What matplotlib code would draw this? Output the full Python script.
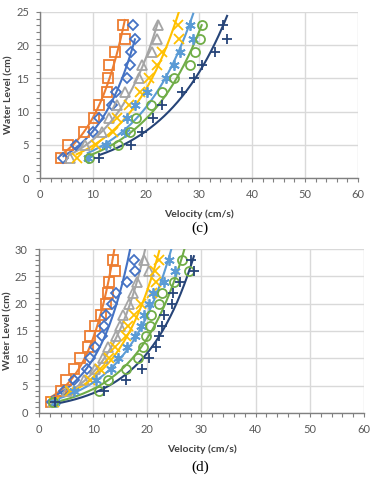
import numpy as np
import matplotlib
matplotlib.use('Agg')
import matplotlib.pyplot as plt
from matplotlib.ticker import MultipleLocator

# panel (c): water level vs velocity
levels_c = [3, 5, 7, 9, 11, 13, 15, 17, 19, 21, 23]
c_orange = [3.9, 5.3, 8.2, 10.2, 11.2, 12.7, 12.9, 13.1, 14.2, 16.0, 15.7]
c_blue = [4.4, 6.8, 9.9, 11.1, 13.5, 14.3, 16.4, 17.0, 17.2, 17.9, 17.6]
c_gray = [5.7, 8.5, 11.6, 13.1, 14.5, 16.0, 18.7, 19.2, 21.1, 22.0, 22.3]
c_yellow = [6.9, 10.5, 13.8, 14.5, 16.7, 18.9, 20.6, 22.0, 23.1, 26.3, 26.1]
c_lightblue = [9.0, 12.5, 16.0, 16.5, 17.9, 20.1, 23.8, 25.3, 26.4, 28.9, 28.3]
c_green = [9.3, 14.8, 17.0, 18.2, 20.9, 23.1, 25.3, 28.3, 29.2, 30.1, 30.5]
c_navy = [11.2, 17.1, 19.2, 21.4, 23.1, 26.7, 29.1, 30.5, 33.0, 35.3, 34.6]

# panel (d)
levels_d = [2, 4, 6, 8, 10, 12, 14, 16, 18, 20, 22, 24, 26, 28]
d_orange = [2.3, 4.1, 5.0, 6.4, 7.6, 9.0, 9.5, 10.4, 11.5, 12.4, 12.7, 12.9, 14.0, 13.6]
d_blue = [2.5, 4.6, 6.4, 8.8, 9.4, 10.3, 11.7, 12.1, 12.4, 13.4, 14.3, 16.3, 17.7, 17.6]
d_gray = [2.6, 5.2, 8.3, 10.3, 11.8, 12.7, 14.2, 14.9, 15.5, 16.6, 17.4, 18.1, 20.3, 19.3]
d_yellow = [2.7, 5.8, 9.4, 11.2, 13.0, 14.0, 16.1, 16.4, 17.6, 18.9, 20.8, 21.6, 21.4, 22.2]
d_lightblue = [2.9, 6.5, 10.5, 13.3, 14.6, 16.2, 17.7, 18.9, 19.4, 20.3, 21.0, 23.0, 25.2, 24.0]
d_green = [2.6, 11.1, 12.7, 16.0, 18.3, 19.2, 19.7, 20.5, 20.7, 22.2, 22.8, 25.0, 27.7, 26.4]
d_navy = [2.9, 12.1, 16.1, 19.1, 20.4, 21.6, 22.2, 22.7, 23.1, 24.5, 24.8, 26.1, 28.6, 28.0]

colors = ['#ED7D31', '#4472C4', '#A5A5A5', '#FFC000', '#5B9BD5', '#70AD47', '#264478']
markers = ['s', 'D', '^', 'x', (6, 2, 0), 'o', '+']
sizes = [6.5, 5, 6.5, 6.5, 7.5, 6.5, 7.5]

tick_color = '#595959'
grid_color = '#D9D9D9'
font = 'Lato'


def trend(v, h):
    # exponential trendline, like the spreadsheet one
    b, a = np.polyfit(v, np.log(h), 1)
    x = np.linspace(min(v), max(v), 200)
    return x, np.exp(a + b * x)


def draw_panel(ax, levels, series, ymax, ystep, ylab_x):
    for v, c, m, s in zip(series, colors, markers, sizes):
        x, y = trend(v, levels)
        ax.plot(x, y, color=c, lw=1.5, zorder=3)
        ax.plot(v, levels, ls='none', marker=m, ms=s, mec=c, mfc='none', mew=1.3, zorder=4)

    ax.set_xlim(0, 60)
    ax.set_ylim(0, ymax)
    ax.xaxis.set_major_locator(MultipleLocator(10))
    ax.xaxis.set_minor_locator(MultipleLocator(2))
    ax.yaxis.set_major_locator(MultipleLocator(ystep))
    ax.yaxis.set_minor_locator(MultipleLocator(1))
    ax.grid(True, which='major', color=grid_color, lw=1)
    ax.set_axisbelow(True)
    for sp in ['top', 'right']:
        ax.spines[sp].set_visible(False)
    for sp in ['left', 'bottom']:
        ax.spines[sp].set_color('#808080')
        ax.spines[sp].set_linewidth(1)
    ax.tick_params(which='both', direction='out', color='#808080', length=3, width=0.8,
                   labelsize=8, labelcolor=tick_color, pad=5)
    for lab in ax.get_xticklabels() + ax.get_yticklabels():
        lab.set_family(font)
    ax.set_ylabel('Water Level (cm)', fontsize=7.5, fontweight='bold', color='#404040',
                  family=font)
    ax.yaxis.set_label_coords(ylab_x, 0.5)
    ax.set_xlabel('Velocity (cm/s)', fontsize=7.5, fontweight='bold', color='#404040',
                  family=font, labelpad=7)


fig = plt.figure(figsize=(3.78, 4.8), dpi=100)

ax1 = fig.add_axes([0.106, 0.629, 0.841, 0.346])
draw_panel(ax1, levels_c,
           [c_orange, c_blue, c_gray, c_yellow, c_lightblue, c_green, c_navy], 25, 5, -0.085)

ax2 = fig.add_axes([0.103, 0.140, 0.860, 0.341])
draw_panel(ax2, levels_d,
           [d_orange, d_blue, d_gray, d_yellow, d_lightblue, d_green, d_navy], 30, 5, -0.08)

fig.text(0.53, 1 - 228 / 480, '(c)', ha='center', va='center', fontsize=11,
         family='Liberation Serif')
fig.text(0.53, 1 - 467 / 480, '(d)', ha='center', va='center', fontsize=11,
         family='Liberation Serif')

fig.savefig('out.png', dpi=100)
